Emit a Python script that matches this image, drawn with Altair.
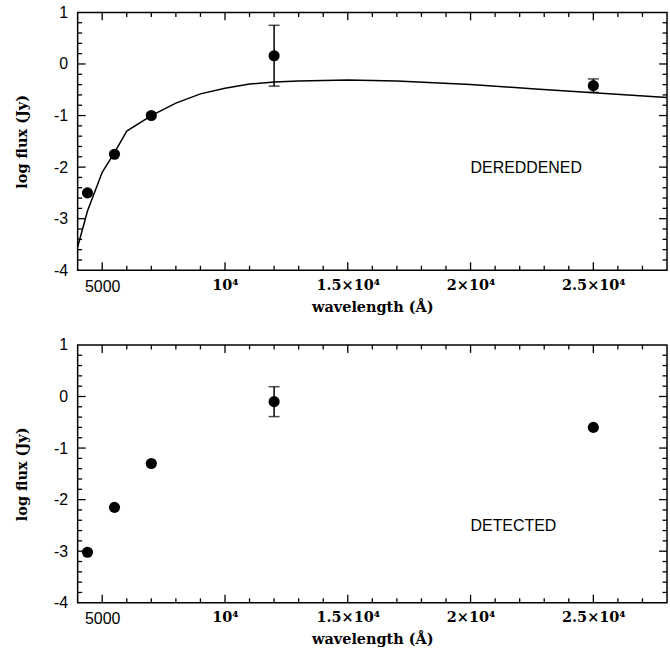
import altair as alt
import pandas as pd

# ---------------- data ----------------
wl_obs = [4400, 5500, 7000, 12000, 25000]
dered_flux = [-2.50, -1.75, -1.00, 0.16, -0.42]
dered_err = [0.0, 0.0, 0.0, 0.59, 0.13]
det_flux = [-3.02, -2.15, -1.30, -0.10, -0.60]
det_err = [0.0, 0.0, 0.0, 0.29, 0.0]

model_wl = [4000, 4400, 5000, 5500, 6000, 7000, 8000, 9000, 10000, 11000,
            12000, 13000, 14000, 15000, 17000, 20000, 22500, 25000, 28000]
model_flux = [-3.55, -2.85, -2.10, -1.72, -1.30, -1.00, -0.76, -0.58, -0.47, -0.39,
              -0.35, -0.33, -0.32, -0.31, -0.33, -0.40, -0.48, -0.56, -0.65]

x_domain = [4000, 28000]
y_domain = [-4, 1]
x_tick_values = [5000, 10000, 15000, 20000, 25000]
x_tick_labels = ["5000", "10\u2074", "1.5\u00d710\u2074", "2\u00d710\u2074", "2.5\u00d710\u2074"]
x_minor_values = [5000 + 1000 * i for i in range(23) if (5000 + 1000 * i) % 5000 != 0]
y_tick_values = [-4, -3, -2, -1, 0, 1]
y_minor_values = [round(-4 + 0.2 * i, 1) for i in range(1, 25) if i % 5 != 0]

W, H = 592, 259
MAJ, MIN = 8, 4.5

xscale = alt.Scale(domain=x_domain, nice=False, zero=False)
yscale = alt.Scale(domain=y_domain, nice=False, zero=False)

label_expr = " : ".join(
    f"datum.value == {v} ? '{t}'" for v, t in zip(x_tick_values, x_tick_labels)
) + " : ''"

serif = "DejaVu Serif"
sans = "Liberation Sans"

x_axis = alt.Axis(
    values=x_tick_values, labelExpr=label_expr, ticks=False, domain=False, grid=False,
    labelFont={"condition": {"test": "datum.value == 5000", "value": sans}, "value": serif},
    labelFontWeight={"condition": {"test": "datum.value == 5000", "value": "normal"}, "value": "bold"},
    labelFontSize={"condition": {"test": "datum.value == 5000", "value": 16}, "value": 14.5},
    labelColor="black", labelPadding=8, labelFlush=False,
    title="wavelength (\u00c5)", titleFont=serif, titleFontWeight="bold", titleFontSize=14.5,
    titleColor="black", titlePadding=6,
)
y_axis = alt.Axis(
    values=y_tick_values, labelExpr="'' + datum.value", ticks=False, domain=False, grid=False,
    labelFont=sans, labelFontSize=16, labelColor="black", labelPadding=10, labelFlush=False,
    title="log flux (Jy)", titleFont=serif, titleFontWeight="bold", titleFontSize=14.5,
    titleColor="black", titlePadding=24,
)


def X(field):
    return alt.X(field, scale=xscale, axis=x_axis)


def Y(field):
    return alt.Y(field, scale=yscale, axis=y_axis)


def frame_ticks():
    maj_x = pd.DataFrame({"x": x_tick_values})
    min_x = pd.DataFrame({"x": x_minor_values})
    maj_y = pd.DataFrame({"y": y_tick_values[1:-1]})
    min_y = pd.DataFrame({"y": y_minor_values})
    layers = []
    for df, ln in ((maj_x, MAJ), (min_x, MIN)):
        base = alt.Chart(df).mark_rule(color="black", strokeWidth=1.3)
        layers.append(base.encode(x=X("x:Q"), y=alt.value(H), y2=alt.value(H - ln)))
        layers.append(base.encode(x=X("x:Q"), y=alt.value(0), y2=alt.value(ln)))
    for df, ln in ((maj_y, MAJ), (min_y, MIN)):
        base = alt.Chart(df).mark_rule(color="black", strokeWidth=1.3)
        layers.append(base.encode(y=Y("y:Q"), x=alt.value(0), x2=alt.value(ln)))
        layers.append(base.encode(y=Y("y:Q"), x=alt.value(W), x2=alt.value(W - ln)))
    return layers


def panel(flux, err, label, label_y, with_model):
    df = pd.DataFrame({"wl": wl_obs, "flux": flux, "err": err})
    df["lo"] = df["flux"] - df["err"]
    df["hi"] = df["flux"] + df["err"]
    eb = df[df["err"] > 0]
    caps = pd.concat([
        pd.DataFrame({"wl": eb["wl"], "v": eb["lo"]}),
        pd.DataFrame({"wl": eb["wl"], "v": eb["hi"]}),
    ])

    layers = []
    if with_model:
        mdf = pd.DataFrame({"wl": model_wl, "flux": model_flux})
        layers.append(alt.Chart(mdf).mark_line(color="black", strokeWidth=1.5, clip=True).encode(
            x=X("wl:Q"), y=Y("flux:Q")))
    layers.append(alt.Chart(df).mark_circle(size=125, color="black", opacity=1).encode(
        x=X("wl:Q"), y=Y("flux:Q")))
    if len(eb):
        layers.append(alt.Chart(eb).mark_rule(color="black", strokeWidth=1.5).encode(
            x=X("wl:Q"), y=Y("lo:Q"), y2="hi:Q"))
        layers.append(alt.Chart(caps).mark_tick(color="black", orient="horizontal",
                                                size=11, thickness=1.5).encode(
            x=X("wl:Q"), y=Y("v:Q")))
    tdf = pd.DataFrame({"x": [20000], "y": [label_y], "t": [label]})
    layers.append(alt.Chart(tdf).mark_text(align="left", baseline="middle", font=sans,
                                           fontSize=16, color="black").encode(
        x=X("x:Q"), y=Y("y:Q"), text="t:N"))
    layers += frame_ticks()
    return alt.layer(*layers).properties(width=W, height=H)


top = panel(dered_flux, dered_err, "DEREDDENED", -2.02, True)
bottom = panel(det_flux, det_err, "DETECTED", -2.52, False)

chart = alt.vconcat(top, bottom, spacing=75, bounds="flush").properties(
    padding={"left": 14, "top": 2, "right": 1, "bottom": 5},
    background="white",
).configure_view(stroke="black", strokeWidth=1.5)

chart.save("out.html", embed_options={"renderer": "svg", "actions": False})
